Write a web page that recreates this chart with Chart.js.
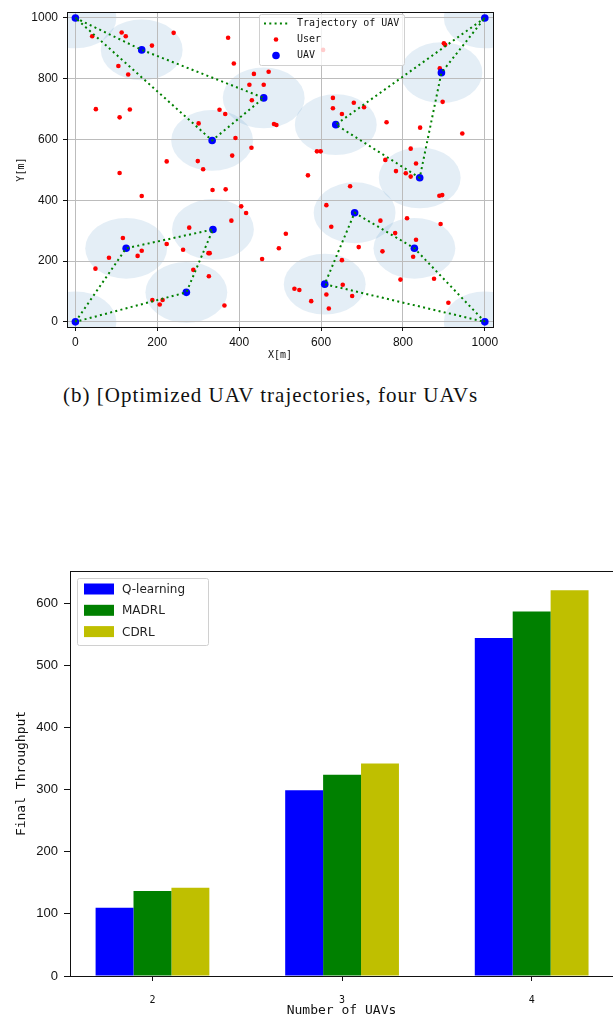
<!DOCTYPE html>
<html>
<head>
<meta charset="utf-8">
<script src="https://cdn.jsdelivr.net/npm/chart.js@4.4.1/dist/chart.umd.min.js"></script>
<style>
  html, body { margin: 0; padding: 0; background: #fff; }
  body { width: 613px; height: 1019px; overflow: hidden; position: relative; }
  #traj { position: absolute; left: 0; top: 0; }
  #bars { position: absolute; left: 0; top: 540px; }
  .caption {
    position: absolute; left: 63px; top: 383px;
    font-family: "Liberation Serif", "Times New Roman", serif;
    font-size: 21px; letter-spacing: 1px; color: #111; white-space: nowrap;
  }
</style>
</head>
<body>
<canvas id="traj" width="613" height="372"></canvas>
<div class="caption">(b) [Optimized UAV trajectories, four UAVs</div>
<canvas id="bars" width="620" height="479"></canvas>
<script>
// ---- trajectory plot data ----
const userX = [41, 113, 123, 187, 240, 373, 387, 105, 129, 436, 472, 425, 460, 431, 50, 108, 133, 352, 366, 301,
  485, 491, 391, 430, 383, 223, 299, 312, 108, 162, 335, 367, 405, 417, 381, 497, 456, 278, 116, 223,
  263, 162, 152, 82, 49, 325, 328, 288, 326, 188, 213, 206, 364, 605, 900, 903, 890, 897, 945, 842,
  760, 629, 680, 705, 629, 651, 590, 599, 819, 757, 832, 783, 807, 819, 568, 671, 889, 896, 613, 745,
  625, 781, 810, 892, 832, 514, 692, 750, 825, 651, 794, 876, 535, 547, 613, 653, 676, 576, 619, 911];
const userY = [940, 952, 940, 909, 951, 935, 850, 842, 814, 816, 823, 780, 780, 729, 700, 673, 699, 698, 684, 653,
  651, 648, 605, 573, 547, 528, 529, 502, 490, 414, 434, 436, 380, 358, 333, 242, 207, 310, 276, 256,
  237, 234, 217, 211, 175, 226, 226, 171, 150, 72, 72, 57, 54, 895, 917, 912, 834, 724, 620, 639,
  657, 737, 721, 706, 703, 684, 561, 561, 570, 533, 521, 496, 489, 478, 482, 446, 415, 417, 384, 333,
  313, 292, 341, 322, 270, 290, 246, 232, 214, 203, 139, 142, 109, 105, 90, 122, 85, 68, 44, 63];

// each route starts and ends at a corner base
const route1 = [[0, 1000], [162, 895], [460, 737], [334, 597], [0, 1000]];
const route2 = [[1000, 1000], [636, 649], [841, 474], [894, 820], [1000, 1000]];
const route3 = [[0, 0], [124, 242], [336, 304], [271, 97], [0, 0]];
const route4 = [[1000, 0], [828, 242], [682, 359], [609, 124], [1000, 0]];
const routes = [route1, route2, route3, route4];

const COVER_RADIUS = 100;
const trajTicks = [0, 200, 400, 600, 800, 1000];

// ---- throughput bar data ----
const uavCounts = [2, 3, 4];
const qLearning = [110, 299, 544];
const madrl = [137, 324, 587];
const cdrl = [142, 342, 621];
const barTicks = [0, 100, 200, 300, 400, 500, 600];

const NARROW = '"Liberation Sans Narrow", "Liberation Sans", Arial, sans-serif';
const MONO = '"DejaVu Sans Mono", monospace';

Chart.defaults.animation = false;
Chart.defaults.events = [];
Chart.defaults.plugins.legend.display = false;
Chart.defaults.plugins.tooltip.enabled = false;

const tickSetter = vals => s => { s.ticks = vals.map(v => ({ value: v })); };
const plain = v => String(v);

// black box around the plotting area
const frame = {
  id: 'frame',
  afterDraw(chart) {
    const { ctx, chartArea: a } = chart;
    ctx.save();
    ctx.strokeStyle = '#111';
    ctx.lineWidth = 1;
    ctx.strokeRect(Math.round(a.left) + 0.5, Math.round(a.top) + 0.5,
      Math.round(a.right - a.left), Math.round(a.bottom - a.top));
    ctx.restore();
  }
};

// coverage discs around each waypoint, in data units
const coverage = {
  id: 'coverage',
  beforeDraw(chart) {
    const { ctx, chartArea: a, scales: { x, y } } = chart;
    ctx.save();
    ctx.beginPath();
    ctx.rect(a.left, a.top, a.right - a.left, a.bottom - a.top);
    ctx.clip();
    ctx.fillStyle = 'rgba(31, 119, 180, 0.12)';
    const seen = new Set();
    routes.forEach(r => r.forEach(([px, py]) => {
      const key = px + ',' + py;
      if (seen.has(key)) return;
      seen.add(key);
      const cx = x.getPixelForValue(px), cy = y.getPixelForValue(py);
      const rx = Math.abs(x.getPixelForValue(px + COVER_RADIUS) - cx);
      const ry = Math.abs(y.getPixelForValue(py + COVER_RADIUS) - cy);
      ctx.beginPath();
      ctx.ellipse(cx, cy, rx, ry, 0, 0, Math.PI * 2);
      ctx.fill();
    }));
    ctx.restore();
  }
};

const trajLegend = {
  id: 'trajLegend',
  afterDraw(chart) {
    const { ctx } = chart;
    ctx.save();
    ctx.fillStyle = 'rgba(255,255,255,0.8)';
    ctx.strokeStyle = '#d0d0d0';
    ctx.lineWidth = 1;
    ctx.beginPath();
    ctx.roundRect(259.5, 14.5, 145, 51, 2);
    ctx.fill();
    ctx.stroke();
    // dotted line sample
    ctx.strokeStyle = '#008000';
    ctx.lineWidth = 2;
    ctx.setLineDash([2, 3.3]);
    ctx.beginPath();
    ctx.moveTo(264, 23.5);
    ctx.lineTo(290, 23.5);
    ctx.stroke();
    ctx.setLineDash([]);
    ctx.fillStyle = '#ff0000';
    ctx.beginPath(); ctx.arc(276, 39.5, 2.3, 0, Math.PI * 2); ctx.fill();
    ctx.fillStyle = '#0000ff';
    ctx.beginPath(); ctx.arc(276, 55.5, 3.8, 0, Math.PI * 2); ctx.fill();
    ctx.fillStyle = '#111';
    ctx.font = '10px ' + MONO;
    ctx.textBaseline = 'middle';
    ctx.fillText('Trajectory of UAV', 297, 23.5);
    ctx.fillText('User', 297, 39.5);
    ctx.fillText('UAV', 297, 55.5);
    ctx.restore();
  }
};

const waypointXY = [];
routes.forEach(r => r.slice(0, -1).forEach(([x, y]) => waypointXY.push({ x, y })));

new Chart(document.getElementById('traj'), {
  type: 'scatter',
  data: {
    datasets: [
      ...routes.map(r => ({
        label: 'Trajectory of UAV',
        data: r.map(([x, y]) => ({ x, y })),
        showLine: true,
        borderColor: '#008000',
        borderWidth: 2,
        borderDash: [2, 3.3],
        pointRadius: 0
      })),
      {
        label: 'UAV',
        data: waypointXY,
        pointRadius: 3.8,
        backgroundColor: '#0000ff',
        borderWidth: 0
      },
      {
        label: 'User',
        data: userX.map((x, i) => ({ x, y: userY[i] })),
        pointRadius: 2.3,
        backgroundColor: '#ff0000',
        borderWidth: 0
      }
    ]
  },
  options: {
    responsive: false,
    layout: { padding: { left: 0, top: 9, right: 120, bottom: 0 } },
    scales: {
      x: {
        type: 'linear', min: -20.5, max: 1020,
        afterBuildTicks: tickSetter(trajTicks),
        afterFit: s => { s.height = 45; },
        border: { display: false },
        grid: { color: '#bcbcbc', lineWidth: 1, tickColor: '#111', tickLength: 4 },
        ticks: { color: '#111', padding: 4, maxRotation: 0, callback: plain, font: { family: NARROW, size: 12 } },
        title: { display: true, text: 'X[m]', color: '#111', padding: { top: 0, bottom: 11 }, font: { family: MONO, size: 10 } }
      },
      y: {
        type: 'linear', min: -17, max: 1019,
        afterBuildTicks: tickSetter(trajTicks),
        afterFit: s => { s.width = 67; },
        border: { display: false },
        grid: { color: '#bcbcbc', lineWidth: 1, tickColor: '#111', tickLength: 4 },
        ticks: { color: '#111', padding: 5, callback: plain, font: { family: NARROW, size: 12 } },
        title: { display: true, text: 'Y[m]', color: '#111', padding: { top: 15, bottom: 0 }, font: { family: MONO, size: 10 } }
      }
    }
  },
  plugins: [coverage, frame, trajLegend]
});

// ---- throughput vs number of UAVs ----
const barLegend = {
  id: 'barLegend',
  afterDraw(chart) {
    const { ctx } = chart;
    const top = 578 - 540;
    ctx.save();
    ctx.fillStyle = 'rgba(255,255,255,0.8)';
    ctx.strokeStyle = '#d0d0d0';
    ctx.lineWidth = 1;
    ctx.beginPath();
    ctx.roundRect(77.5, top + 0.5, 131, 67, 2);
    ctx.fill();
    ctx.stroke();
    const rows = [['Q-learning', '#0000ff'], ['MADRL', '#008000'], ['CDRL', '#bfbf00']];
    ctx.font = '12px "DejaVu Sans", sans-serif';
    ctx.textBaseline = 'middle';
    rows.forEach(([name, color], i) => {
      const cy = top + 11 + i * 21.3;
      ctx.fillStyle = color;
      ctx.fillRect(84, cy - 5.5, 30, 11);
      ctx.fillStyle = '#222';
      ctx.fillText(name, 122, cy + 1);
    });
    ctx.restore();
  }
};

const barSet = (label, vals, color) => ({
  label,
  data: uavCounts.map((n, i) => ({ x: n, y: vals[i] })),
  backgroundColor: color,
  borderWidth: 0,
  categoryPercentage: 0.6,
  barPercentage: 1.0
});

new Chart(document.getElementById('bars'), {
  type: 'bar',
  data: {
    datasets: [
      barSet('Q-learning', qLearning, '#0000ff'),
      barSet('MADRL', madrl, '#008000'),
      barSet('CDRL', cdrl, '#bfbf00')
    ]
  },
  options: {
    responsive: false,
    layout: { padding: { left: 0, top: 31, right: 7, bottom: 0 } },
    scales: {
      x: {
        type: 'linear', min: 1.565, max: 4.429, offset: false,
        afterBuildTicks: tickSetter(uavCounts),
        afterFit: s => { s.height = 43; },
        border: { display: false },
        grid: { display: true, offset: false, drawOnChartArea: false, tickColor: '#111', tickLength: 5 },
        ticks: { color: '#111', padding: 13, callback: plain, font: { family: MONO, size: 10 } },
        title: { display: true, text: 'Number of UAVs', color: '#111', padding: { top: 0, bottom: 1 }, font: { family: MONO, size: 13 } }
      },
      y: {
        min: 0, max: 652,
        afterBuildTicks: tickSetter(barTicks),
        afterFit: s => { s.width = 70; },
        border: { display: false },
        grid: { display: true, drawOnChartArea: false, tickColor: '#111', tickLength: 6 },
        ticks: { color: '#111', padding: 6, callback: plain, font: { family: '"Liberation Sans", Arial, sans-serif', size: 13 } },
        title: { display: true, text: 'Final Throughput', color: '#111', padding: { top: 14, bottom: 0 }, font: { family: MONO, size: 13 } }
      }
    }
  },
  plugins: [frame, barLegend]
});
</script>
</body>
</html>
